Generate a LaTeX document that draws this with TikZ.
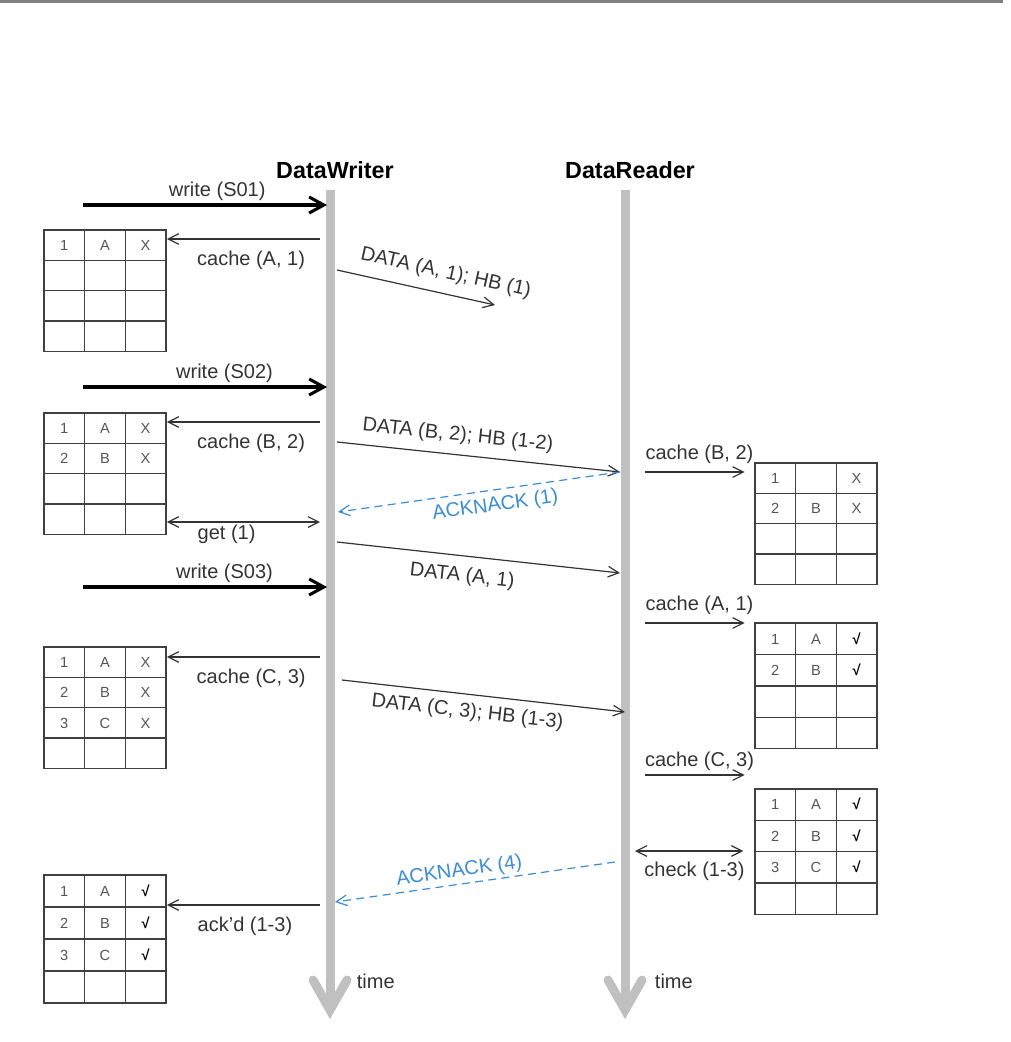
\documentclass[tikz,border=0pt]{standalone}
\usepackage{fontspec}
\setmainfont{Liberation Sans}
\usetikzlibrary{arrows.meta,matrix,calc}
\definecolor{ink}{HTML}{333333}
\definecolor{lifegray}{HTML}{C0C0C0}
\definecolor{tabline}{HTML}{404040}
\definecolor{tabtext}{HTML}{555555}
\definecolor{ackblue}{HTML}{3A8DD4}
\definecolor{rulegray}{HTML}{808080}
\newcommand{\acked}{\textcolor{black}{\bfseries √}}

\tikzset{
  lbl/.style={font=\fontsize{15}{18}\selectfont, text=ink, inner sep=2pt},
  headline/.style={font=\fontsize{17.5}{21}\selectfont\bfseries, text=black},
  lifeline/.style={draw=lifegray, line width=6.75pt},
  msg/.style={draw=ink, line width=0.9pt, -{Straight Barb[length=8pt,width=8pt]}},
  twoway/.style={msg, {Straight Barb[length=8pt,width=8pt]}-{Straight Barb[length=8pt,width=8pt]}},
  writeop/.style={draw=black, line width=2.3pt, -{Straight Barb[length=11pt,width=12pt]}},
  acknack/.style={msg, draw=ackblue, dash pattern=on 6pt off 4pt},
  cachetab/.style={matrix of nodes, nodes in empty cells, anchor=north west, inner sep=0pt,
    row sep=-1pt, column sep=-1pt,
    nodes={draw=tabline, line width=1pt, minimum width=30.5pt, minimum height=#1, anchor=center,
      text height=8pt, text depth=0pt, inner sep=0pt, font=\fontsize{11}{13}\selectfont, text=tabtext}},
  cachetab/.default=22.75pt
}

\begin{document}
\begin{tikzpicture}[x=0.75pt, y=-0.75pt]
\useasboundingbox (0,0) rectangle (1010,1042);
\draw[rulegray, line width=1.5pt] (0,1.5) -- (1003,1.5);

% participants and their time lines
\node[headline] (writer) at (335,170) {DataWriter};
\node[headline] (reader) at (630,170) {DataReader};
\coordinate (wtop) at (330,190); \coordinate (wbot) at (330,1010);
\coordinate (rtop) at (625,190); \coordinate (rbot) at (625,1010);
\draw[lifeline] (wtop) -- (wbot);
\draw[lifeline, line cap=round, line join=miter] ($(wbot)+(-17,-30)$) -- (wbot) -- ($(wbot)+(17,-30)$);
\draw[lifeline] (rtop) -- (rbot);
\draw[lifeline, line cap=round, line join=miter] ($(rbot)+(-17,-30)$) -- (rbot) -- ($(rbot)+(17,-30)$);
\node[lbl, anchor=west] (wtime) at (354,981) {time};
\node[lbl, anchor=west] (rtime) at (652,981) {time};

% writer history caches
\matrix[cachetab] (lt1) at (43,229) {1 & A & X \\ & & \\ & & \\ & & \\};
\matrix[cachetab] (lt2) at (43,412) {1 & A & X \\ 2 & B & X \\ & & \\ & & \\};
\matrix[cachetab] (lt3) at (43,646) {1 & A & X \\ 2 & B & X \\ 3 & C & X \\ & & \\};
\matrix[cachetab=24pt] (lt4) at (43,874) {1 & A & \acked \\ 2 & B & \acked \\ 3 & C & \acked \\ & & \\};

% reader history caches
\matrix[cachetab] (rt1) at (754,462) {1 & & X \\ 2 & B & X \\ & & \\ & & \\};
\matrix[cachetab=23.6pt] (rt2) at (754,622) {1 & A & \acked \\ 2 & B & \acked \\ & & \\ & & \\};
\matrix[cachetab=23.5pt] (rt3) at (754,788) {1 & A & \acked \\ 2 & B & \acked \\ 3 & C & \acked \\ & & \\};

% end points
\coordinate (s01a) at (83,205); \coordinate (s01b) at (327,205);
\coordinate (s02a) at (83,387); \coordinate (s02b) at (327,387);
\coordinate (s03a) at (83,587); \coordinate (s03b) at (327,587);
\coordinate (wc1) at (320,239); \coordinate (wc2) at (320,422);
\coordinate (wget) at (320,522); \coordinate (wc3) at (320,657);
\coordinate (wack) at (320,905);
\coordinate (d1a) at (337,270); \coordinate (d1b) at (495,305);
\coordinate (d2a) at (337,442); \coordinate (d2b) at (620,472);
\coordinate (n1b) at (338,512);
\coordinate (d3a) at (337,542); \coordinate (d3b) at (620,573);
\coordinate (d4a) at (342,680); \coordinate (d4b) at (625,712);
\coordinate (n4a) at (615,862); \coordinate (n4b) at (335,902);
\coordinate (rc1) at (645,472); \coordinate (rc2) at (645,623);
\coordinate (rc3) at (645,775); \coordinate (rchk) at (635,851);

% writer side
\draw[writeop] (s01a) -- (s01b) node[lbl, above, pos=0.55] {write (S01)};
\draw[msg] (wc1) -- (wc1 -| lt1.east) node[lbl, below=6.5pt, pos=0.45] {cache (A, 1)};
\draw[writeop] (s02a) -- (s02b) node[lbl, above, pos=0.58] {write (S02)};
\draw[msg] (wc2) -- (wc2 -| lt2.east) node[lbl, below=6.5pt, pos=0.45] {cache (B, 2)};
\draw[twoway] (wget -| lt2.east) -- (wget) node[lbl, below, pos=0.39] {get (1)};
\draw[writeop] (s03a) -- (s03b) node[lbl, above, pos=0.58] {write (S03)};
\draw[msg] (wc3) -- (wc3 -| lt3.east) node[lbl, below=6.5pt, pos=0.45] {cache (C, 3)};
\draw[msg] (wack) -- (wack -| lt4.east) node[lbl, below=6.5pt, pos=0.49] {ack'd (1-3)};

% messages
\draw[msg] (d1a) -- (d1b) node[lbl, sloped, above=6pt, pos=0.66] {DATA (A, 1); HB (1)};
\draw[msg] (d2a) -- (d2b) node[lbl, sloped, above=5pt, pos=0.42] {DATA (B, 2); HB (1-2)};
\draw[acknack] (d2b) -- (n1b) node[lbl, text=ackblue, sloped, below=2.5pt, pos=0.45] {ACKNACK (1)};
\draw[msg] (d3a) -- (d3b) node[lbl, sloped, below=6pt, pos=0.45] {DATA (A, 1)};
\draw[msg] (d4a) -- (d4b) node[lbl, sloped, below=4pt, pos=0.45] {DATA (C, 3); HB (1-3)};
\draw[acknack] (n4a) -- (n4b) node[lbl, text=ackblue, sloped, above, pos=0.55] {ACKNACK (4)};

% reader side
\draw[msg, shorten >=7pt] (rc1) -- (rc1 -| rt1.west) node[lbl, above=4pt, pos=0.5] {cache (B, 2)};
\draw[msg, shorten >=7pt] (rc2) -- (rc2 -| rt2.west) node[lbl, above=4pt, pos=0.5] {cache (A, 1)};
\draw[msg, shorten >=7pt] (rc3) -- (rc3 -| rt3.west) node[lbl, above=1pt, pos=0.5] {cache (C, 3)};
\draw[twoway, shorten >=8pt] (rchk) -- (rchk -| rt3.west) node[lbl, below=6pt, pos=0.5] {check (1-3)};
\end{tikzpicture}
\end{document}
